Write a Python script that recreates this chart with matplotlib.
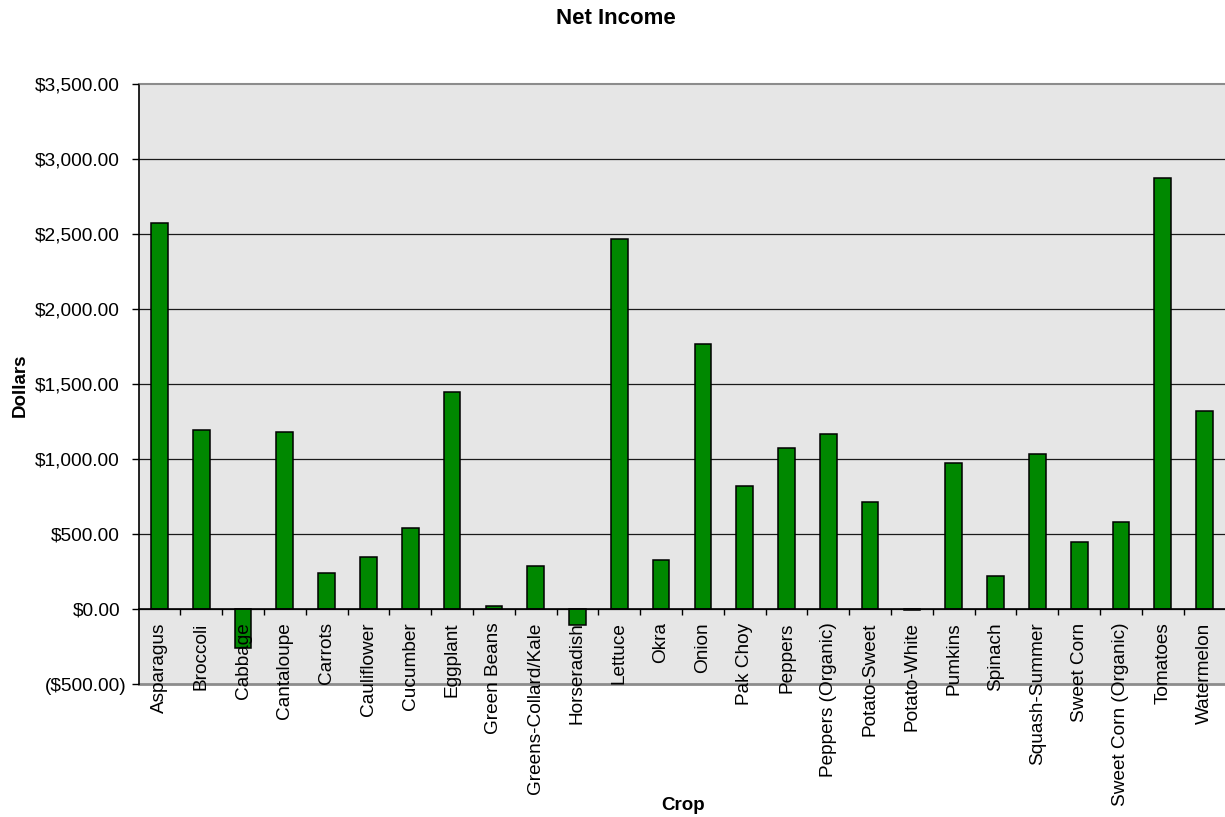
import matplotlib
matplotlib.use("Agg")
import matplotlib.pyplot as plt
from matplotlib.ticker import FixedLocator, FuncFormatter

plt.rcParams['font.family'] = ['Liberation Sans', 'DejaVu Sans']

crops = [
    "Asparagus", "Broccoli", "Cabbage", "Cantaloupe", "Carrots", "Cauliflower",
    "Cucumber", "Eggplant", "Green Beans", "Greens-Collard/Kale", "Horseradish",
    "Lettuce", "Okra", "Onion", "Pak Choy", "Peppers", "Peppers (Organic)",
    "Potato-Sweet", "Potato-White", "Pumkins", "Spinach", "Squash-Summer",
    "Sweet Corn", "Sweet Corn (Organic)", "Tomatoes", "Watermelon",
]
net_income = [
    2577, 1197, -256, 1184, 242, 347,
    540, 1451, 20, 289, -102,
    2467, 331, 1769, 822, 1073, 1169,
    717, -8, 975, 224, 1033,
    449, 584, 2873, 1324,
]
y_ticks = [-500, 0, 500, 1000, 1500, 2000, 2500, 3000, 3500]

W, H = 1225, 817
fig = plt.figure(figsize=(W / 100, H / 100), dpi=100)
ax = fig.add_axes([138.5 / W, (H - 684.3) / H, 1087 / W, 600.3 / H])
ax.set_facecolor('#E6E6E6')
ax.set_axisbelow(False)

x = range(len(crops))
ax.bar(x, net_income, width=0.4, color='#008800', edgecolor='black',
       linewidth=1.1, zorder=2)

ax.set_xlim(-0.5, len(crops) - 0.5)
ax.set_ylim(-500, 3500)

# horizontal gridlines behind the bars
for v in y_ticks[1:-1]:
    ax.axhline(v, color='#1a1a1a', linewidth=0.9, zorder=1)

# y axis
ax.yaxis.set_major_locator(FixedLocator(y_ticks))


def money(v, pos=None):
    if v < 0:
        return "(${:,.2f})".format(-v)
    return "${:,.2f}".format(v)


ax.yaxis.set_major_formatter(FuncFormatter(money))
ax.tick_params(axis='y', direction='out', length=5, width=1, colors='black',
               labelsize=13.8)
for t, v in zip(ax.yaxis.get_major_ticks(), y_ticks):
    t.set_pad(8.3 if v >= 0 else 3.3)

# x axis crosses at zero
ax.spines['bottom'].set_position(('data', 0))
ax.spines['bottom'].set_linewidth(1.2)
ax.spines['left'].set_linewidth(1.2)
ax.spines['right'].set_visible(False)
ax.spines['top'].set_color('#8c8c8c')
ax.spines['top'].set_linewidth(1.5)
ax.axhline(-500, color='#8c8c8c', linewidth=2.0, zorder=2.2, clip_on=False)

ax.set_xticks(list(x))
ax.set_xticklabels(crops, rotation=90, fontsize=13.7)
ax.tick_params(axis='x', which='major', length=0, pad=9.5)
ax.set_xticks([i + 0.5 for i in range(len(crops) - 1)], minor=True)
ax.tick_params(axis='x', which='minor', direction='out', length=4, width=1,
               colors='black')

fig.text(616 / W, 1 - 18 / H, "Net Income", ha='center', va='center',
         fontsize=16, fontweight='bold')
fig.text(683 / W, 1 - 806 / H, "Crop", ha='center', va='center',
         fontsize=13.5, fontweight='bold')
fig.text(20 / W, 1 - 385 / H, "Dollars", ha='center', va='center',
         rotation=90, fontsize=13.5, fontweight='bold')

fig.savefig("out.png", dpi=100)
